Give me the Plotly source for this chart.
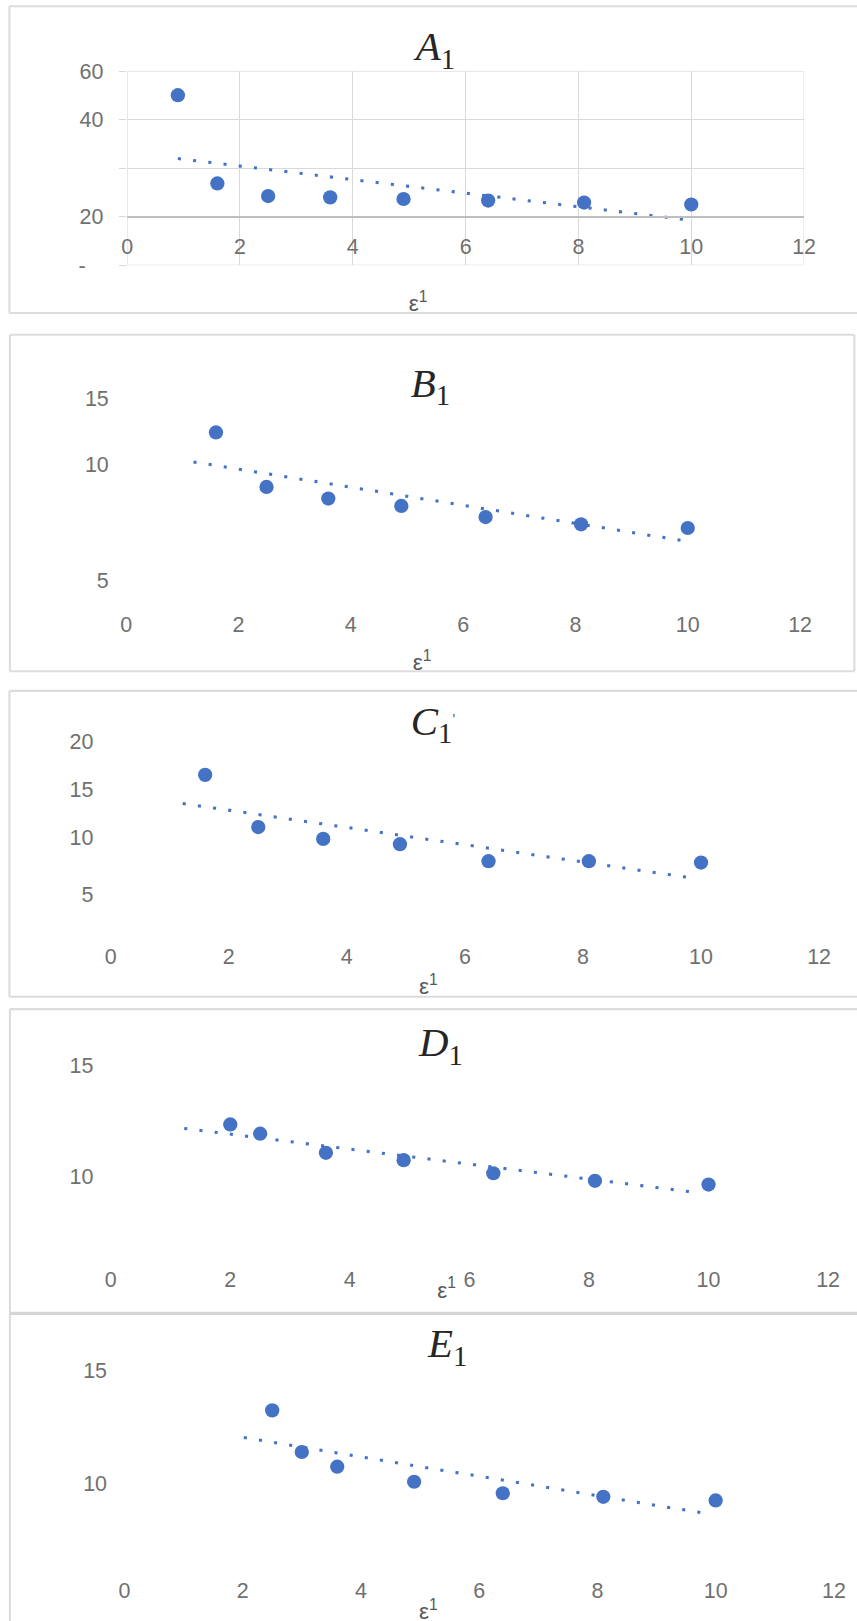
import plotly.graph_objects as go

W, H = 857, 1621

# ---------------- data ----------------
x_ticks = [0, 2, 4, 6, 8, 10, 12]

a1_x = [0.9, 1.6, 2.5, 3.6, 4.9, 6.4, 8.1, 10.0]
a1_y = [52.6, 25.3, 21.4, 21.0, 20.5, 20.0, 19.4, 18.8]
a1_trend_x = [0.9, 10.0]
a1_trend_y = [33.0, 13.9]
a1_tickvals = [0, 15, 30, 45, 60]
a1_ticktext = ["-" + "\u00a0" * 3, "20", "", "40", "60"]

b1_x = [1.6, 2.5, 3.6, 4.9, 6.4, 8.1, 10.0]
b1_y = [11.37, 9.02, 8.52, 8.20, 7.72, 7.41, 7.25]
b1_trend_x = [1.2, 9.95]
b1_trend_y = [10.1, 6.69]
b1_tickvals = [5, 10, 12.83]
b1_ticktext = ["5", "10", "15"]

c1_x = [1.6, 2.5, 3.6, 4.9, 6.4, 8.1, 10.0]
c1_y = [16.54, 11.1, 9.87, 9.32, 7.55, 7.55, 7.4]
c1_trend_x = [1.22, 9.78]
c1_trend_y = [13.56, 5.86]
c1_tickvals = [4.1, 10, 15, 20]
c1_ticktext = ["5", "10", "15", "20"]

d1_x = [2.0, 2.5, 3.6, 4.9, 6.4, 8.1, 10.0]
d1_y = [12.36, 11.94, 11.08, 10.75, 10.16, 9.82, 9.65]
d1_trend_x = [1.23, 9.71]
d1_trend_y = [12.18, 9.32]
d1_tickvals = [10, 15]
d1_ticktext = ["10", "15"]

e1_x = [2.5, 3.0, 3.6, 4.9, 6.4, 8.1, 10.0]
e1_y = [13.24, 11.39, 10.74, 10.07, 9.56, 9.40, 9.24]
e1_trend_x = [2.02, 9.81]
e1_trend_y = [12.03, 8.67]
e1_tickvals = [10, 15]
e1_ticktext = ["10", "15"]

# ---------------- layout helpers ----------------
BLUE = "#4472C4"
GRID = "#d9d9d9"
TICKC = "#707070"
TICKFONT = dict(family="Liberation Sans, Arial, sans-serif", size=21, color=TICKC)


def px2py(p):
    return 1 - p / H


def ydom(lo, hi, v1, p1, v2, p2):
    s = (p2 - p1) / (v2 - v1)
    plo = p1 + (lo - v1) * s
    phi = p1 + (hi - v1) * s
    return [px2py(plo), px2py(phi)]


panels = [
    dict(xs=a1_x, ys=a1_y, tx=a1_trend_x, ty=a1_trend_y, tv=a1_tickvals, tt=a1_ticktext,
         yr=[0, 60], cal=(0, 265, 60, 71), x0=127, x12=804),
    dict(xs=b1_x, ys=b1_y, tx=b1_trend_x, ty=b1_trend_y, tv=b1_tickvals, tt=b1_ticktext,
         yr=[4, 13.3], cal=(10, 464, 5, 580), x0=126, x12=800),
    dict(xs=c1_x, ys=c1_y, tx=c1_trend_x, ty=c1_trend_y, tv=c1_tickvals, tt=c1_ticktext,
         yr=[-0.2, 21.5], cal=(20, 741.5, 10, 837.5), x0=110.6, x12=819),
    dict(xs=d1_x, ys=d1_y, tx=d1_trend_x, ty=d1_trend_y, tv=d1_tickvals, tt=d1_ticktext,
         yr=[6.3, 15.6], cal=(15, 1065.7, 10, 1176.7), x0=110.6, x12=828),
    dict(xs=e1_x, ys=e1_y, tx=e1_trend_x, ty=e1_trend_y, tv=e1_tickvals, tt=e1_ticktext,
         yr=[6.15, 15.6], cal=(15, 1370.7, 10, 1483.3), x0=124.3, x12=833.8),
]

fig = go.Figure()
layout = dict(
    width=W, height=H,
    margin=dict(l=0, r=0, t=0, b=0),
    paper_bgcolor="white", plot_bgcolor="rgba(0,0,0,0)",
    showlegend=False,
    dragmode=False,
)

for i, p in enumerate(panels):
    n = "" if i == 0 else str(i + 1)
    xa, ya = "x" + n, "y" + n
    fig.add_trace(go.Scatter(x=p["tx"], y=p["ty"], mode="lines", xaxis=xa, yaxis=ya,
                             line=dict(color=BLUE, width=3, dash="3px,12px"),
                             hoverinfo="skip"))
    fig.add_trace(go.Scatter(x=p["xs"], y=p["ys"], mode="markers", xaxis=xa, yaxis=ya,
                             marker=dict(color=BLUE, size=14, line=dict(width=0))))
    xd = [p["x0"] / W, p["x12"] / W]
    yd = ydom(p["yr"][0], p["yr"][1], *p["cal"])
    xkey, ykey = "xaxis" + n, "yaxis" + n
    if i == 0:
        layout[xkey] = dict(domain=xd, range=[0, 12], tickvals=x_ticks, showgrid=True,
                            gridcolor=GRID, gridwidth=1, zeroline=False,
                            anchor="free", position=px2py(216), showline=True,
                            linecolor="#bfbfbf", linewidth=1.5, ticks="",
                            tickfont=TICKFONT, ticklabelstandoff=11, fixedrange=True)
        layout[ykey] = dict(domain=yd, range=p["yr"], tickvals=p["tv"], ticktext=p["tt"],
                            showgrid=True, gridcolor=GRID, gridwidth=1, zeroline=False,
                            showline=False, ticks="outside", ticklen=7, tickcolor=GRID,
                            anchor="x", tickfont=TICKFONT, ticklabelstandoff=11,
                            fixedrange=True)
    else:
        layout[xkey] = dict(domain=xd, range=[0, 12], tickvals=x_ticks, showgrid=False,
                            zeroline=False, showline=False, ticks="", anchor=ya,
                            tickfont=TICKFONT, ticklabelstandoff=6, fixedrange=True)
        layout[ykey] = dict(domain=yd, range=p["yr"], tickvals=p["tv"], ticktext=p["tt"],
                            showgrid=False, zeroline=False, showline=False, ticks="",
                            anchor=xa, tickfont=TICKFONT, ticklabelstandoff=16,
                            fixedrange=True)

# panel frames: (left, top, right or None, bottom or None)
frames = [
    (9.3, 6, None, 312.7),
    (9.8, 334.5, 854.3, 671),
    (9.3, 690.7, None, 996.7),
    (9.8, 1009, None, 1313.3),
    (9.8, 1313.3, None, None),
]
FRAMEC = "#dcdcdc"
shapes = []


def hline(x0, x1, y, w=2, c=FRAMEC):
    shapes.append(dict(type="line", xref="paper", yref="paper", x0=x0 / W, x1=x1 / W,
                       y0=px2py(y), y1=px2py(y), line=dict(color=c, width=w)))


def vline(x, y0, y1, w=2, c=FRAMEC):
    shapes.append(dict(type="line", xref="paper", yref="paper", x0=x / W, x1=x / W,
                       y0=px2py(y0), y1=px2py(y1), line=dict(color=c, width=w)))


for (l, t, r, b) in frames:
    right = r if r is not None else W + 20
    bottom = b if b is not None else H + 20
    hline(l, right, t)
    vline(l, t, bottom)
    if r is not None:
        vline(r, t, bottom)
    if b is not None:
        hline(l, right, b)
hline(9.8, W + 20, 1313.3, w=3, c="#d6d6d6")

# A1 plot-area outline (grid border)
shapes.append(dict(type="rect", xref="x", yref="y", x0=0, x1=12, y0=0, y1=60,
                   line=dict(color=GRID, width=1), fillcolor="rgba(0,0,0,0)",
                   layer="below"))
layout["shapes"] = shapes

# titles and axis titles
TFONT = dict(family="Liberation Serif, DejaVu Serif, serif", size=40, color="#262626")
titles = [
    ("<i>A</i><sub>1</sub>", 434, 49),
    ("<i>B</i><sub>1</sub>", 430, 385),
    ("<i>C</i><sub>1</sub>", 432, 723),
    ("<i>D</i><sub>1</sub>", 440, 1045),
    ("<i>E</i><sub>1</sub>", 447, 1346),
]
ann = []
for t, x, y in titles:
    ann.append(dict(text=t, x=x / W, y=px2py(y), xref="paper", yref="paper",
                    showarrow=False, font=TFONT, xanchor="center", yanchor="middle"))
ann.append(dict(text="'", x=454 / W, y=px2py(719), xref="paper", yref="paper",
                showarrow=False, font=dict(family="Liberation Sans", size=14, color="#595959")))
EFONT = dict(family="Liberation Sans, Arial, sans-serif", size=22, color="#595959")
for x, y in [(418, 301), (422, 660), (428, 985), (446, 1288), (428, 1610)]:
    ann.append(dict(text="ε<sup>1</sup>", x=x / W, y=px2py(y), xref="paper", yref="paper",
                    showarrow=False, font=EFONT, xanchor="center", yanchor="middle"))
layout["annotations"] = ann

fig.update_layout(**layout)

# page setup: no body margin; small CSS correction so the photographed page lines up
SX, OX = 0.979, 5.9
SY, OY = 0.986, 11.7
post = (
    "document.documentElement.style.margin='0';"
    "document.body.style.margin='0';document.body.style.padding='0';"
    "document.body.style.overflow='hidden';"
    "var gd=document.getElementsByClassName('plotly-graph-div')[0];"
    "gd.style.position='absolute';gd.style.left='0px';gd.style.top='0px';"
    "gd.style.transformOrigin='0 0';"
    "gd.style.transform='translate(%.3fpx,%.3fpx) scale(%.5f,%.5f)';"
    % (-OX / SX, -OY / SY, 1 / SX, 1 / SY)
)
fig.write_html("out.html", config={"displayModeBar": False, "staticPlot": True},
               post_script=post)
